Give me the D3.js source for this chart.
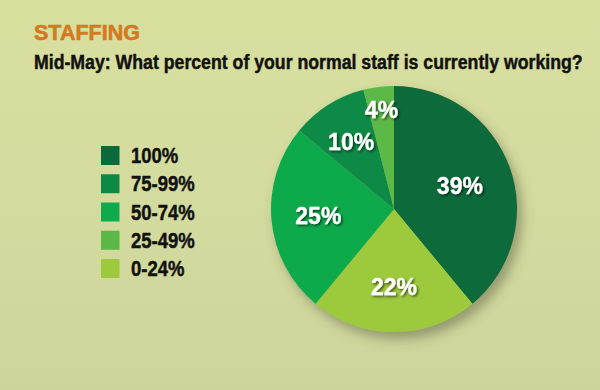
<!DOCTYPE html>
<html>
<head>
<meta charset="utf-8">
<script src="https://cdn.jsdelivr.net/npm/d3@7"></script>
<style>
  html, body { margin: 0; padding: 0; background: #d5dc9f; }
  svg { display: block; }
</style>
</head>
<body>
<svg id="chart" width="600" height="390"></svg>
<script>
// ---- data ----
const categories = ["100%", "0-24%", "50-74%", "75-99%", "25-49%"];
const values = [39, 22, 25, 10, 4];
const legendOrder = ["100%", "75-99%", "50-74%", "25-49%", "0-24%"];
const colors = {
  "100%": "#0b6a3a",
  "75-99%": "#0c8a45",
  "50-74%": "#0eaa4b",
  "25-49%": "#5bb847",
  "0-24%": "#9dc93c"
};
const title = "STAFFING";
const subtitle = "Mid-May: What percent of your normal staff is currently working?";

// ---- layout ----
const W = 600, H = 390;
const cx = 394, cy = 209, R = 123;
const labelR = [70, 78, 76, 80, 100];
const FONT = "'Liberation Sans', Arial, sans-serif";

const svg = d3.select("#chart");
const defs = svg.append("defs");

const bg = defs.append("linearGradient").attr("id", "bg").attr("x1", 0).attr("y1", 0).attr("x2", 0).attr("y2", 1);
bg.append("stop").attr("offset", "0%").attr("stop-color", "#d8df9f");
bg.append("stop").attr("offset", "60%").attr("stop-color", "#d3da9e");
bg.append("stop").attr("offset", "100%").attr("stop-color", "#ccd49c");
svg.append("rect").attr("width", W).attr("height", H).attr("fill", "url(#bg)");

const shadow = defs.append("filter").attr("id", "pieShadow")
  .attr("x", "-20%").attr("y", "-20%").attr("width", "150%").attr("height", "150%");
shadow.append("feDropShadow").attr("dx", 5).attr("dy", 7).attr("stdDeviation", 6)
  .attr("flood-color", "#4a5030").attr("flood-opacity", 0.45);

const txtShadow = defs.append("filter").attr("id", "txtShadow")
  .attr("x", "-20%").attr("y", "-30%").attr("width", "150%").attr("height", "170%");
txtShadow.append("feDropShadow").attr("dx", 1.5).attr("dy", 1.5).attr("stdDeviation", 1)
  .attr("flood-color", "#000").attr("flood-opacity", 0.6);

// fit a text horizontally to a given width by scaling it
function fitText(sel, x, y, width) {
  const w = sel.node().getComputedTextLength();
  sel.attr("x", 0).attr("y", 0)
    .attr("transform", `translate(${x},${y}) scale(${width / w},1)`);
}

// titles
const t1 = svg.append("text")
  .attr("font-family", FONT).attr("font-weight", "bold").attr("font-size", 21.5)
  .attr("fill", "#d4791f").attr("stroke", "#d4791f").attr("stroke-width", 0.6)
  .text(title);
fitText(t1, 34, 39.5, 106);

const t2 = svg.append("text")
  .attr("font-family", FONT).attr("font-weight", "bold").attr("font-size", 20)
  .attr("fill", "#111").attr("stroke", "#111").attr("stroke-width", 0.45)
  .text(subtitle);
fitText(t2, 34, 69, 549);

// pie
const pie = d3.pie().sort(null).value(d => d.v);
const arcs = pie(categories.map((c, i) => ({ c, v: values[i] })));
const arc = d3.arc().innerRadius(0).outerRadius(R);

const g = svg.append("g").attr("transform", `translate(${cx},${cy})`);
g.append("g").attr("filter", "url(#pieShadow)")
  .selectAll("path").data(arcs).join("path")
  .attr("d", arc).attr("fill", d => colors[d.data.c]);

g.selectAll("text.lbl").data(arcs).join("text")
  .attr("class", "lbl")
  .attr("transform", (d, i) => {
    const a = d3.arc().innerRadius(labelR[i]).outerRadius(labelR[i]);
    return `translate(${a.centroid(d)})`;
  })
  .attr("text-anchor", "middle").attr("dy", "0.36em")
  .attr("font-family", FONT)
  .attr("font-weight", "bold").attr("font-size", 23).attr("fill", "#fff")
  .attr("stroke", "#fff").attr("stroke-width", 0.3)
  .attr("filter", "url(#txtShadow)")
  .text(d => d.data.v + "%");

// legend
const ly = d3.scalePoint().domain(legendOrder).range([155.5, 268.5]);
const lg = svg.append("g");
lg.selectAll("rect").data(legendOrder).join("rect")
  .attr("x", 101).attr("y", d => ly(d) - 9.5).attr("width", 18.5).attr("height", 19)
  .attr("fill", d => colors[d]);
lg.selectAll("text").data(legendOrder).join("text")
  .attr("transform", d => `translate(131,${ly(d)}) scale(0.86,1)`)
  .attr("dy", "0.36em")
  .attr("font-family", FONT)
  .attr("font-weight", "bold").attr("font-size", 21.5).attr("fill", "#111")
  .attr("stroke", "#111").attr("stroke-width", 0.45)
  .text(d => d);
</script>
</body>
</html>
